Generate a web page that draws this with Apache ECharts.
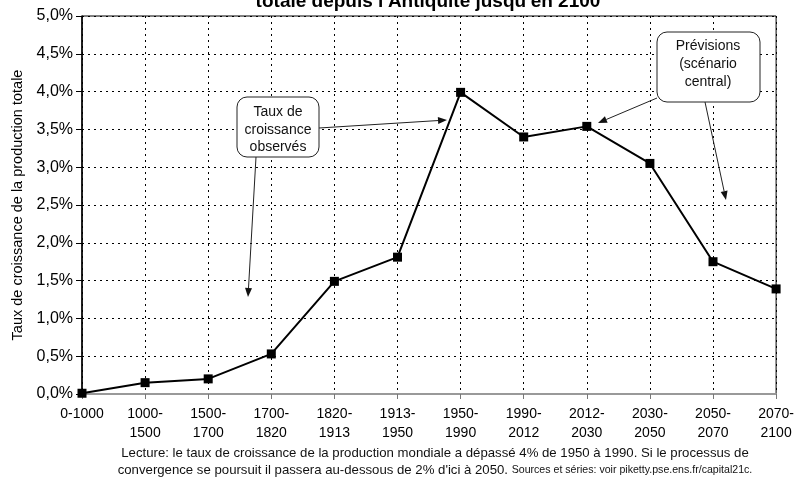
<!DOCTYPE html>
<html>
<head>
<meta charset="utf-8">
<script src="https://cdn.jsdelivr.net/npm/echarts@6/dist/echarts.min.js"></script>
<style>
  html, body { margin: 0; padding: 0; background: #fff; }
  #chart { width: 797px; height: 477px; }
</style>
</head>
<body>
<div id="chart"></div>
<script>
// Periods and world output growth rates (% per year)
const periods = ['0-1000', '1000-1500', '1500-1700', '1700-1820', '1820-1913', '1913-1950',
                 '1950-1990', '1990-2012', '2012-2030', '2030-2050', '2050-2070', '2070-2100'];
const growthRates = [0.01, 0.15, 0.20, 0.53, 1.49, 1.81, 3.99, 3.40, 3.54, 3.05, 1.75, 1.39];

const yMin = 0, yMax = 5, yStep = 0.5;

const titleText = "totale depuis l'Antiquité jusqu'en 2100";
const yAxisTitle = 'Taux de croissance de la production totale';
const noteLine1 = 'Lecture: le taux de croissance de la production mondiale a dépassé 4% de 1950 à 1990. Si le processus de';
const noteLine2 = "convergence se poursuit il passera au-dessous de 2% d'ici à 2050. ";
const noteSources = 'Sources et séries: voir piketty.pse.ens.fr/capital21c.';
const observedLabel = ['Taux de', 'croissance', 'observés'];
const forecastLabel = ['Prévisions', '(scénario', 'central)'];

const FONT = 'Liberation Sans, Arial, sans-serif';

function arrow(x1, y1, x2, y2) {
  const a = Math.atan2(y2 - y1, x2 - x1);
  const L = 9, W = 3.5;
  const bx = x2 - L * Math.cos(a), by = y2 - L * Math.sin(a);
  const nx = -Math.sin(a) * W, ny = Math.cos(a) * W;
  return [
    { type: 'line', z: 20, shape: { x1: x1, y1: y1, x2: bx, y2: by },
      style: { stroke: '#222', lineWidth: 1 } },
    { type: 'polygon', z: 20, shape: { points: [[x2, y2], [bx + nx, by + ny], [bx - nx, by - ny]] },
      style: { fill: '#111' } }
  ];
}

function callout(x, y, w, h, lines, cx, lineYs) {
  const els = [{ type: 'rect', z: 21, shape: { x: x, y: y, width: w, height: h, r: 10 },
                 style: { fill: '#fff', stroke: '#222', lineWidth: 1 } }];
  lines.forEach(function (t, i) {
    els.push({ type: 'text', z: 22, x: cx, y: lineYs[i],
               style: { text: t, font: '14px ' + FONT, fill: '#111', align: 'center', verticalAlign: 'middle' } });
  });
  return els;
}

const chart = echarts.init(document.getElementById('chart'), null, { renderer: 'canvas' });

const graphics = []
  .concat([{ type: 'text', x: 428, y: 11,
             style: { text: titleText, font: 'bold 19px ' + FONT, fill: '#000', align: 'center', verticalAlign: 'bottom' } }])
  .concat(arrow(319, 128, 447, 120))
  .concat(arrow(256, 157, 248, 297))
  .concat(callout(237, 97, 82, 60, observedLabel, 278, [112, 130, 147]))
  .concat(arrow(657, 98, 598, 123))
  .concat(arrow(705, 102, 726, 200))
  .concat(callout(657, 32, 103, 70, forecastLabel, 708, [46, 64, 82]))
  .concat([{
    type: 'text', x: 435, y: 462,
    style: {
      text: noteLine1 + '\n' + noteLine2 + '{s|' + noteSources + '}',
      font: '13.2px ' + FONT, fill: '#111', align: 'center', verticalAlign: 'middle', lineHeight: 17,
      rich: { s: { fontSize: 10.6, fontFamily: FONT, fill: '#111' } }
    }
  }]);

chart.setOption({
  backgroundColor: '#fff',
  animation: false,
  grid: { left: 82, right: 18, top: 16, bottom: 83, show: true, borderColor: '#000', borderWidth: 1 },
  xAxis: {
    type: 'category',
    data: periods,
    boundaryGap: false,
    axisLine: { lineStyle: { color: '#999', width: 2 } },
    axisTick: { show: true, length: 5, lineStyle: { color: '#777' } },
    axisLabel: {
      color: '#000', fontSize: 14, fontFamily: FONT, margin: 11, lineHeight: 19, interval: 0,
      formatter: function (v) { return v.indexOf('0-') === 0 ? v : v.replace('-', '-\n'); }
    },
    splitLine: { show: true, lineStyle: { color: '#000', type: [2, 4], width: 1 } }
  },
  yAxis: {
    type: 'value',
    min: yMin, max: yMax, interval: yStep,
    name: yAxisTitle,
    nameLocation: 'middle',
    nameGap: 57,
    nameTextStyle: { color: '#000', fontSize: 14.5, fontFamily: FONT },
    axisLine: { show: true, lineStyle: { color: '#000', width: 1.5 } },
    axisTick: { show: true, length: 6, lineStyle: { color: '#000' } },
    axisLabel: {
      color: '#000', fontSize: 16, fontFamily: FONT, margin: 9,
      formatter: function (v) { return v.toFixed(1).replace('.', ',') + '%'; }
    },
    splitLine: { show: true, lineStyle: { color: '#000', type: [2, 4], width: 1 } }
  },
  series: [{
    type: 'line',
    data: growthRates,
    symbol: 'rect',
    symbolSize: 9,
    itemStyle: { color: '#000' },
    lineStyle: { color: '#000', width: 2 },
    z: 5
  }],
  graphic: graphics
});
</script>
</body>
</html>
